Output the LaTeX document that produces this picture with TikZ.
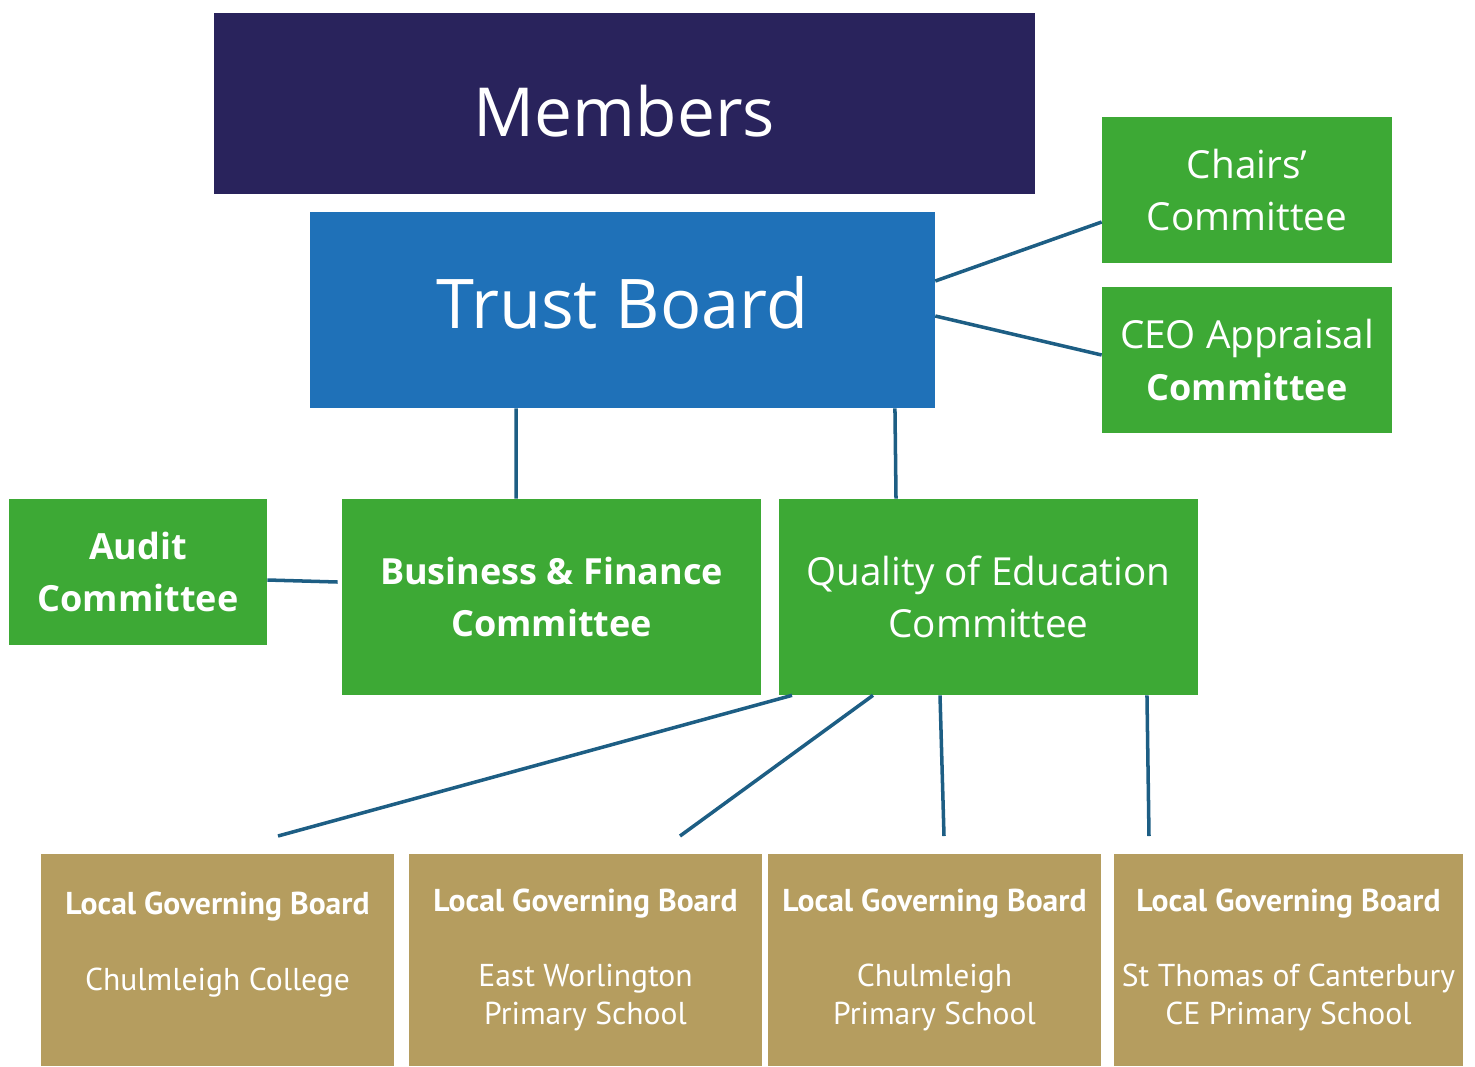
\documentclass[tikz,border=0pt]{standalone}
\usepackage{fontspec}
\setmainfont{Open Sans}
\newfontfamily\boardfont{PT Sans}
\definecolor{membersblue}{HTML}{29235C}
\definecolor{trustblue}{HTML}{1F71B8}
\definecolor{committeegreen}{HTML}{3DA935}
\definecolor{localgold}{HTML}{B59D5F}
\definecolor{linkblue}{HTML}{1D5E84}
\tikzstyle{membox} = [fill=membersblue, text=white, minimum width=16.42cm,
    minimum height=3.62cm, text height=1.3cm, text depth=0cm,
    font=\fontsize{38.5}{46}\selectfont]
\tikzstyle{trustbox} = [fill=trustblue, text=white, minimum width=12.5cm,
    minimum height=3.92cm, text height=0.72cm, text depth=0cm,
    font=\fontsize{39}{47}\selectfont]
\tikzstyle{combox} = [fill=committeegreen, text=white, align=center,
    minimum height=2.92cm, font=\fontsize{22}{29.5}\selectfont]
\tikzstyle{boldcom} = [font=\bfseries\fontsize{20.5}{29.5}\selectfont]
\tikzstyle{bigcombox} = [combox, minimum width=8.38cm, minimum height=3.92cm]
\tikzstyle{lgbbox} = [fill=localgold, text=white, align=center,
    minimum height=4.24cm, font=\boardfont\fontsize{18}{21.5}\selectfont]
\tikzstyle{link} = [draw=linkblue, line width=2pt]

\begin{document}
\begin{tikzpicture}[x=0.02cm, y=-0.02cm]
    \useasboundingbox (0,0) rectangle (1475,1066);
    \node [membox] (members) at (624.5,103.5) {Members};
    \node [trustbox] (trust) at (622.5,310) {Trust Board};
    \node [combox, minimum width=5.8cm] (chairs) at (1247,190) {Chairs’\\Committee};
    \node [combox, minimum width=5.8cm] (ceo) at (1247,360) {CEO Appraisal\\{\bfseries\fontsize{20.5}{29.5}\selectfont Committee}};
    \node [combox, boldcom, minimum width=5.16cm] (audit) at (138,572) {Audit\\Committee};
    \node [bigcombox, boldcom] (bfc) at (551.5,597) {Business \& Finance\\Committee};
    \node [bigcombox] (qoe) at (988.5,597) {Quality of Education\\Committee};
    % local governing boards
    \node [lgbbox, minimum width=7.06cm] (lgb1) at (217.5,960) {\textbf{Local Governing Board}\\\mbox{}\\Chulmleigh College\\\mbox{}};
    \node [lgbbox, minimum width=7.06cm] (lgb2) at (585.5,960) {\textbf{Local Governing Board}\\\mbox{}\\East Worlington\\Primary School};
    \node [lgbbox, minimum width=6.66cm] (lgb3) at (934.5,960) {\textbf{Local Governing Board}\\\mbox{}\\Chulmleigh\\Primary School};
    \node [lgbbox, minimum width=6.98cm] (lgb4) at (1288.5,960) {\textbf{Local Governing Board}\\\mbox{}\\St Thomas of Canterbury\\CE Primary School};
    \coordinate (end1) at (278,836);
    \coordinate (end2) at (680,836);
    \coordinate (end3) at (944,836);
    \coordinate (end4) at (1149,836);
    % connectors
    \draw [link] ([yshift=0.58cm]trust.east) -- ([yshift=-0.64cm]chairs.west);
    \draw [link] ([yshift=-0.12cm]trust.east) -- ([yshift=0.1cm]ceo.west);
    \draw [link] ([xshift=-2.13cm]trust.south) -- ([xshift=-0.71cm]bfc.north);
    \draw [link] ([xshift=5.45cm]trust.south) -- ([xshift=-1.85cm]qoe.north);
    \draw [link] ([yshift=-0.16cm]audit.east) -- ([xshift=-0.08cm,yshift=0.3cm]bfc.west);
    \draw [link] ([xshift=-3.93cm]qoe.south) -- (end1);
    \draw [link] ([xshift=-2.31cm]qoe.south) -- (end2);
    \draw [link] ([xshift=-0.97cm]qoe.south) -- (end3);
    \draw [link] ([xshift=3.17cm]qoe.south) -- (end4);
\end{tikzpicture}
\end{document}
